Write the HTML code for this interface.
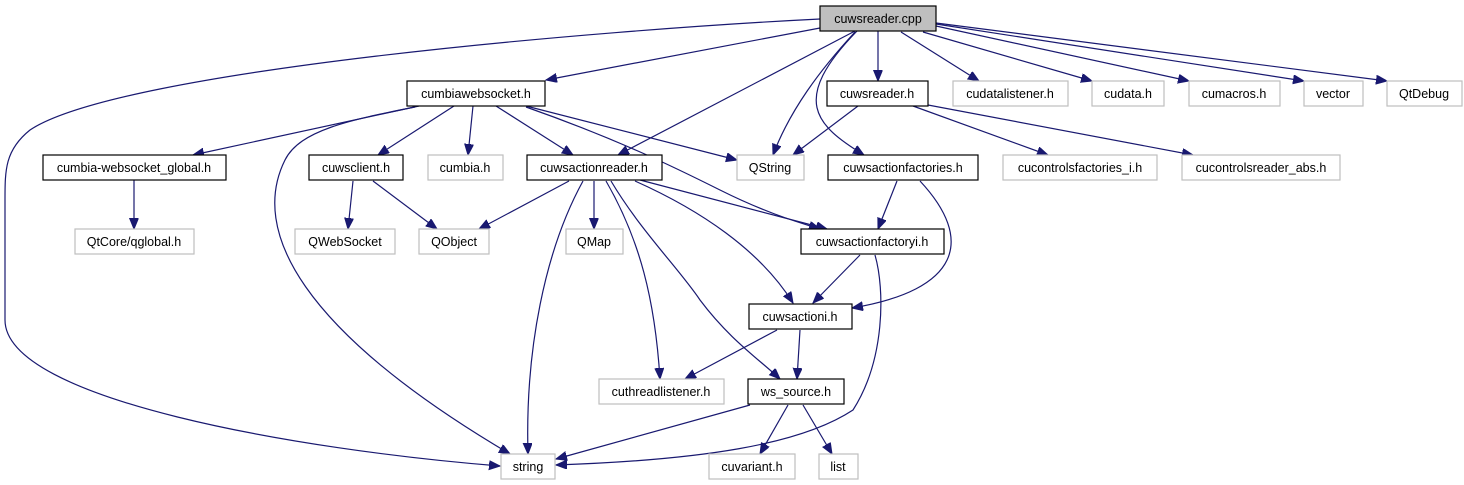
<!DOCTYPE html>
<html><head><meta charset="utf-8"><style>
html,body{margin:0;padding:0;background:#fff;}
svg{display:block;}
text{font-family:"Liberation Sans",sans-serif;font-size:12.5px;fill:#000;text-anchor:middle;}
.b{fill:#fff;stroke:#000;stroke-width:1.2;}
.g{fill:#fff;stroke:#bfbfbf;stroke-width:1.2;}
.e{fill:none;stroke:#191970;stroke-width:1.2;marker-end:url(#a);}
</style></head><body>
<svg width="1464" height="485" viewBox="0 0 1464 485" xmlns="http://www.w3.org/2000/svg">
<defs><marker id="a" markerUnits="userSpaceOnUse" markerWidth="12" markerHeight="10" refX="11" refY="4.5" orient="auto"><path d="M0,0 L11,4.5 L0,9 z" fill="#191970" stroke="#191970"/></marker></defs>
<!-- edges -->
<path class="e" d="M820,19 C600,30 120,70 30,130 C5,150 5,170 5,200 L5,320 C5,400 300,450 500,466"/>
<path class="e" d="M820,28 L546,80"/>
<path class="e" d="M855,31 L618,155"/>
<path class="e" d="M855,32 C820,70 790,110 773,155"/>
<path class="e" d="M857,31 C790,100 815,125 864,155"/>
<path class="e" d="M878,31 L878,81"/>
<path class="e" d="M901,32 L979,81"/>
<path class="e" d="M923,32 L1092,81"/>
<path class="e" d="M936,26 L1189,81"/>
<path class="e" d="M936,24 L1304,81"/>
<path class="e" d="M936,23 L1387,81"/>
<path class="e" d="M858,106 L793,155"/>
<path class="e" d="M913,106 L1048,155"/>
<path class="e" d="M928,105 L1193,155"/>
<path class="e" d="M419,106 L193,155"/>
<path class="e" d="M415,107 C350,120 300,130 285,160 C250,230 300,330 510,454"/>
<path class="e" d="M454,106 L378,155"/>
<path class="e" d="M473,106 L468,155"/>
<path class="e" d="M496,106 L573,155"/>
<path class="e" d="M526,106 L737,160"/>
<path class="e" d="M526,107 C620,140 680,170 720,190 C760,210 790,220 820,229"/>
<path class="e" d="M134,180 L134,229"/>
<path class="e" d="M353,181 L348,229"/>
<path class="e" d="M373,181 L437,229"/>
<path class="e" d="M569,181 L479,229"/>
<path class="e" d="M594,181 L594,229"/>
<path class="e" d="M583,181 C545,250 525,350 528,454"/>
<path class="e" d="M606,181 C640,240 655,300 660,379"/>
<path class="e" d="M611,181 C640,230 680,270 700,300 C730,340 760,360 780,379"/>
<path class="e" d="M635,181 C700,210 760,250 793,303"/>
<path class="e" d="M640,180 L827,229"/>
<path class="e" d="M897,181 L878,229"/>
<path class="e" d="M920,181 C975,240 960,290 852,308"/>
<path class="e" d="M860,255 L813,303"/>
<path class="e" d="M875,255 C885,290 885,360 853,410 C800,445 700,460 556,465"/>
<path class="e" d="M777,330 L685,379"/>
<path class="e" d="M800,330 L797,379"/>
<path class="e" d="M750,405 L556,459"/>
<path class="e" d="M788,405 L760,454"/>
<path class="e" d="M803,405 L832,454"/>
<!-- nodes -->
<rect x="820" y="6" width="116" height="25" fill="#bfbfbf" stroke="#000" stroke-width="1.2"/><text x="878" y="23">cuwsreader.cpp</text>
<rect class="b" x="407" y="81" width="138" height="25"/><text x="476" y="98">cumbiawebsocket.h</text>
<rect class="b" x="827" y="81" width="101" height="25"/><text x="877" y="98">cuwsreader.h</text>
<rect class="g" x="953" y="81" width="115" height="25"/><text x="1010" y="98">cudatalistener.h</text>
<rect class="g" x="1092" y="81" width="72" height="25"/><text x="1128" y="98">cudata.h</text>
<rect class="g" x="1189" y="81" width="91" height="25"/><text x="1234" y="98">cumacros.h</text>
<rect class="g" x="1304" y="81" width="59" height="25"/><text x="1333" y="98">vector</text>
<rect class="g" x="1387" y="81" width="75" height="25"/><text x="1424" y="98">QtDebug</text>
<rect class="b" x="43" y="155" width="183" height="25"/><text x="134" y="172">cumbia-websocket_global.h</text>
<rect class="b" x="309" y="155" width="94" height="25"/><text x="356" y="172">cuwsclient.h</text>
<rect class="g" x="428" y="155" width="75" height="25"/><text x="465" y="172">cumbia.h</text>
<rect class="b" x="527" y="155" width="135" height="25"/><text x="594" y="172">cuwsactionreader.h</text>
<rect class="g" x="737" y="155" width="67" height="25"/><text x="770" y="172">QString</text>
<rect class="b" x="828" y="155" width="150" height="25"/><text x="903" y="172">cuwsactionfactories.h</text>
<rect class="g" x="1003" y="155" width="154" height="25"/><text x="1080" y="172">cucontrolsfactories_i.h</text>
<rect class="g" x="1182" y="155" width="158" height="25"/><text x="1261" y="172">cucontrolsreader_abs.h</text>
<rect class="g" x="75" y="229" width="119" height="25"/><text x="134" y="246">QtCore/qglobal.h</text>
<rect class="g" x="295" y="229" width="100" height="25"/><text x="345" y="246">QWebSocket</text>
<rect class="g" x="419" y="229" width="70" height="25"/><text x="454" y="246">QObject</text>
<rect class="g" x="566" y="229" width="57" height="25"/><text x="594" y="246">QMap</text>
<rect class="b" x="801" y="229" width="143" height="25"/><text x="872" y="246">cuwsactionfactoryi.h</text>
<rect class="b" x="749" y="304" width="103" height="25"/><text x="800" y="321">cuwsactioni.h</text>
<rect class="g" x="599" y="379" width="125" height="25"/><text x="661" y="396">cuthreadlistener.h</text>
<rect class="b" x="748" y="379" width="96" height="25"/><text x="796" y="396">ws_source.h</text>
<rect class="g" x="501" y="454" width="54" height="25"/><text x="528" y="471">string</text>
<rect class="g" x="709" y="454" width="86" height="25"/><text x="752" y="471">cuvariant.h</text>
<rect class="g" x="819" y="454" width="39" height="25"/><text x="838" y="471">list</text>
</svg>
</body></html>
